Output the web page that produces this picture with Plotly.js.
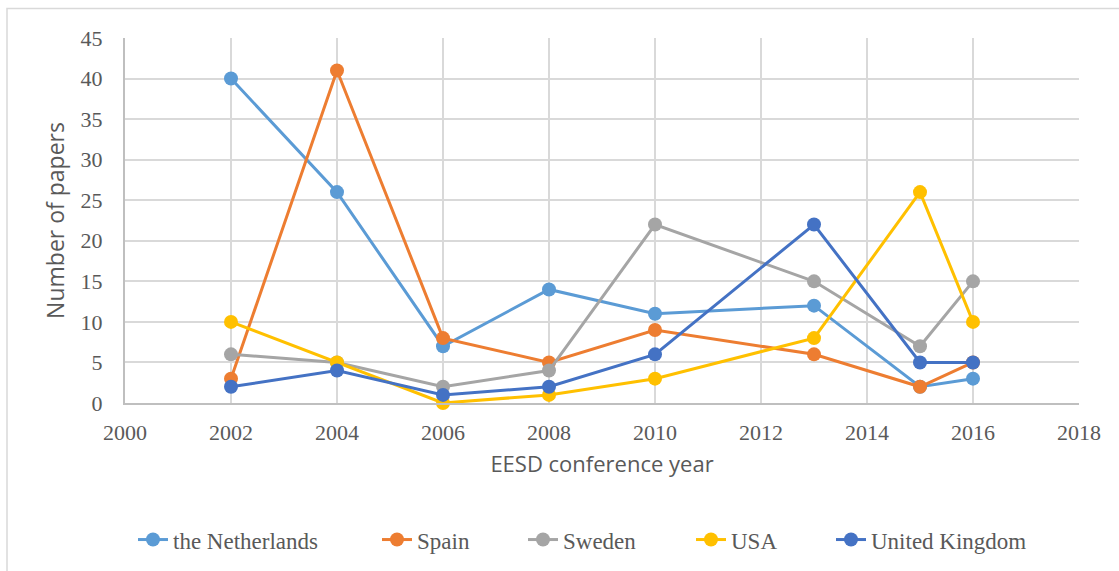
<!DOCTYPE html>
<html>
<head>
<meta charset="utf-8">
<script src="https://cdn.plot.ly/plotly-3.0.1.min.js"></script>
<style>
html,body{margin:0;padding:0;background:#fff;}
#chart{width:1119px;height:571px;}
</style>
</head>
<body>
<div id="chart"></div>
<script>
const years = [2002, 2004, 2006, 2008, 2010, 2013, 2015, 2016];
const seriesNames = ["the Netherlands", "Spain", "Sweden", "USA", "United Kingdom"];
const netherlands = [40, 26, 7, 14, 11, 12, 2, 3];
const spain = [3, 41, 8, 5, 9, 6, 2, 5];
const sweden = [6, 5, 2, 4, 22, 15, 7, 15];
const usa = [10, 5, 0, 1, 3, 8, 26, 10];
const uk = [2, 4, 1, 2, 6, 22, 5, 5];
const xTicks = [2000, 2002, 2004, 2006, 2008, 2010, 2012, 2014, 2016, 2018];
const yTicks = [0, 5, 10, 15, 20, 25, 30, 35, 40, 45];

const colors = ["#5B9BD5", "#ED7D31", "#A5A5A5", "#FFC000", "#4472C4"];
const values = [netherlands, spain, sweden, usa, uk];
const legendIds = ["legend", "legend2", "legend3", "legend4", "legend5"];
const legendLeft = [133, 377, 523, 691, 831];

const traces = values.map((v, i) => ({
  x: years, y: v, name: seriesNames[i], type: "scatter", mode: "lines+markers",
  line: {color: colors[i], width: 3},
  marker: {color: colors[i], size: 14},
  cliponaxis: false,
  legend: legendIds[i]
}));

const serif = "Liberation Serif";
const sans = "Open Sans";

const layout = {
  width: 1119, height: 571,
  margin: {l: 125, r: 40, t: 38, b: 168},
  paper_bgcolor: "#ffffff", plot_bgcolor: "#ffffff",
  font: {family: serif, color: "#595959"},
  showlegend: true,
  xaxis: {
    range: [2000, 2018], tickvals: xTicks, ticktext: xTicks.map(String),
    showgrid: true, gridcolor: "#d9d9d9", gridwidth: 2,
    showline: true, linecolor: "#bfbfbf", linewidth: 2,
    zeroline: false, ticks: "outside", ticklen: 9, tickcolor: "rgba(0,0,0,0)",
    tickfont: {family: serif, size: 22, color: "#595959"},
    title: {text: "EESD conference year", font: {family: sans, size: 22, color: "#595959"}, standoff: 12}
  },
  yaxis: {
    range: [0, 45], tickvals: yTicks, ticktext: yTicks.map(String),
    showgrid: true, gridcolor: "#d9d9d9", gridwidth: 2,
    showline: true, linecolor: "#bfbfbf", linewidth: 2,
    zeroline: false, ticks: "outside", ticklen: 16, tickcolor: "rgba(0,0,0,0)",
    tickfont: {family: serif, size: 22, color: "#595959"},
    title: {text: "Number of papers", font: {family: sans, size: 23, color: "#595959"}, standoff: 10}
  },
  shapes: [{
    type: "rect", xref: "paper", yref: "paper",
    x0: (7 - 125) / 954, x1: 1.2, y0: -0.6, y1: (403 - 8.5) / 365,
    line: {color: "#d9d9d9", width: 1.5}, fillcolor: "rgba(0,0,0,0)", layer: "below"
  }]
};

legendIds.forEach((id, i) => {
  layout[id] = {
    orientation: "h", xref: "container", yref: "container",
    x: legendLeft[i] / 1119, xanchor: "left", y: 0.055, yanchor: "middle",
    font: {family: serif, size: 23, color: "#595959"},
    bgcolor: "rgba(0,0,0,0)"
  };
});

Plotly.newPlot("chart", traces, layout, {displayModeBar: false, staticPlot: true});
</script>
</body>
</html>
